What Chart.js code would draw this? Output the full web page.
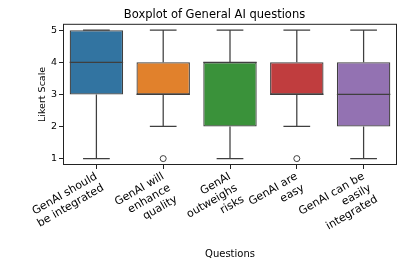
<!DOCTYPE html>
<html>
<head>
<meta charset="utf-8">
<script src="https://cdn.jsdelivr.net/npm/chart.js@4.4.0/dist/chart.umd.min.js"></script>
<style>
  html, body { margin: 0; padding: 0; background: #fff; }
  #wrap { width: 407px; height: 271px; }
</style>
</head>
<body>
<div id="wrap"><canvas id="myChart" width="407" height="271"></canvas></div>
<script>
// values
const questions = [
    ['GenAI should', 'be integrated'],
    ['GenAI will', 'enhance', 'quality'],
    ['GenAI', 'outweighs', 'risks'],
    ['GenAI are', 'easy'],
    ['GenAI can be', 'easily', 'integrated']
];
const q1 = [3, 3, 2, 3, 2];
const q3 = [5, 4, 4, 4, 4];
const medians = [4, 3, 4, 3, 3];
const whiskerLow = [1, 2, 1, 2, 1];
const whiskerHigh = [5, 5, 5, 5, 5];
const outliers = [null, 1, null, 1, null];
const yTicks = [1, 2, 3, 4, 5];
const boxColors = ['#3274a1', '#e1812c', '#3a923a', '#c03d3e', '#9372b2'];

const edgeColor = '#3f3f3f';

// whiskers, caps, medians and frame
const boxPlugin = {
    id: 'boxExtras',
    afterDatasetsDraw(chart) {
        const ctx = chart.ctx;
        const x = chart.scales.x;
        const y = chart.scales.y;
        const meta = chart.getDatasetMeta(0);
        ctx.save();
        ctx.strokeStyle = edgeColor;
        ctx.lineWidth = 1.25;
        for (let i = 0; i < questions.length; i++) {
            const bar = meta.data[i];
            const cx = x.getPixelForValue(i);
            const half = bar.width / 2;
            const capHalf = half / 2;
            ctx.beginPath();
            // lower whisker
            ctx.moveTo(cx, y.getPixelForValue(q1[i]));
            ctx.lineTo(cx, y.getPixelForValue(whiskerLow[i]));
            ctx.moveTo(cx - capHalf, y.getPixelForValue(whiskerLow[i]));
            ctx.lineTo(cx + capHalf, y.getPixelForValue(whiskerLow[i]));
            // upper whisker
            ctx.moveTo(cx, y.getPixelForValue(q3[i]));
            ctx.lineTo(cx, y.getPixelForValue(whiskerHigh[i]));
            ctx.moveTo(cx - capHalf, y.getPixelForValue(whiskerHigh[i]));
            ctx.lineTo(cx + capHalf, y.getPixelForValue(whiskerHigh[i]));
            // median
            ctx.moveTo(cx - half, y.getPixelForValue(medians[i]));
            ctx.lineTo(cx + half, y.getPixelForValue(medians[i]));
            ctx.stroke();
        }
        const a = chart.chartArea;
        ctx.strokeStyle = '#222';
        ctx.lineWidth = 1;
        ctx.strokeRect(a.left + 0.5, a.top + 0.5, a.right - a.left - 1, a.bottom - a.top - 1);
        ctx.restore();
    }
};

const ctx = document.getElementById('myChart').getContext('2d');
const myChart = new Chart(ctx, {
    type: 'bar',
    data: {
        labels: questions,
        datasets: [{
            label: 'IQR',
            data: q1.map((v, i) => [v, q3[i]]),
            backgroundColor: boxColors,
            borderColor: edgeColor,
            borderWidth: 1.25,
            borderSkipped: false,
            barPercentage: 0.8,
            categoryPercentage: 1.0
        }, {
            type: 'line',
            label: 'Outliers',
            data: outliers,
            showLine: false,
            pointStyle: 'circle',
            pointRadius: 3,
            pointBackgroundColor: '#fff',
            pointBorderColor: edgeColor,
            pointBorderWidth: 1
        }]
    },
    options: {
        responsive: false,
        animation: false,
        layout: { padding: { left: 32, right: 10, top: 0, bottom: 8 } },
        plugins: {
            legend: { display: false },
            tooltip: { enabled: false },
            title: {
                display: true,
                text: 'Boxplot of General AI questions',
                color: '#000',
                font: { family: 'DejaVu Sans', size: 11.5, weight: 'normal' },
                padding: { top: 8, bottom: 2 }
            }
        },
        scales: {
            x: {
                offset: true,
                grid: { display: true, drawOnChartArea: false, tickLength: 4, tickColor: '#222', offset: false },
                border: { display: false },
                ticks: {
                    color: '#000',
                    maxRotation: 30,
                    minRotation: 30,
                    autoSkip: false,
                    padding: 1,
                    font: { family: 'DejaVu Sans', size: 11 }
                },
                title: {
                    display: true,
                    text: 'Questions',
                    color: '#000',
                    font: { family: 'DejaVu Sans', size: 10 },
                    padding: { top: 0, bottom: 3 }
                },
                afterFit(scale) { scale.height = 98; }
            },
            y: {
                min: 0.8,
                max: 5.2,
                afterBuildTicks(scale) { scale.ticks = yTicks.map(v => ({ value: v })); },
                grid: { display: true, drawOnChartArea: false, tickLength: 4, tickColor: '#222' },
                border: { display: false },
                ticks: {
                    color: '#000',
                    padding: 2,
                    font: { family: 'DejaVu Sans', size: 9.5 }
                },
                title: {
                    display: true,
                    text: 'Likert Scale',
                    color: '#000',
                    font: { family: 'DejaVu Sans', size: 9.5 },
                    padding: { top: 5, bottom: 0 }
                },
                afterFit(scale) { scale.width = 31; }
            }
        }
    },
    plugins: [boxPlugin]
});
</script>
</body>
</html>
